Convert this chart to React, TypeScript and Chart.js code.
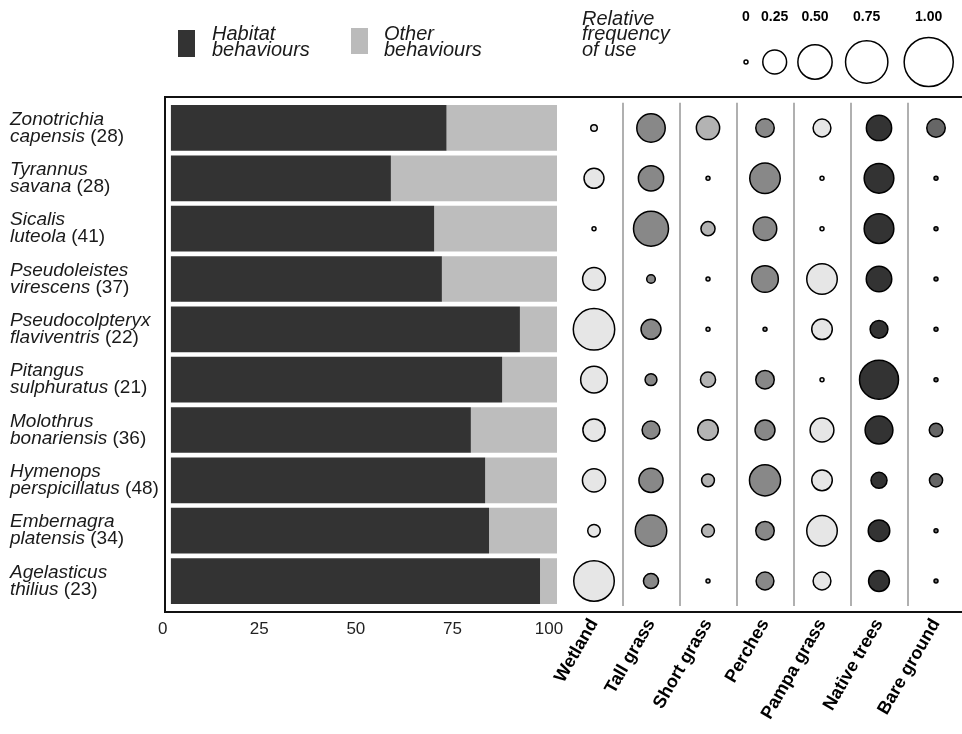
import { useEffect, useRef } from "react";
import { Chart, registerables } from "chart.js";
Chart.register(...registerables);

const GENUS = ["Zonotrichia", "Tyrannus", "Sicalis", "Pseudoleistes", "Pseudocolpteryx", "Pitangus", "Molothrus", "Hymenops", "Embernagra", "Agelasticus"];
const EPITHET = ["capensis", "savana", "luteola", "virescens", "flaviventris", "sulphuratus", "bonariensis", "perspicillatus", "platensis", "thilius"];
const SAMPLE_N = [28, 28, 41, 37, 22, 21, 36, 48, 34, 23];
const SPECIES = GENUS.map((g, i) => g + " " + EPITHET[i]);

const HABITAT_PCT = [71.4, 57.0, 68.2, 70.2, 90.4, 85.8, 77.7, 81.4, 82.4, 95.6];
const OTHER_PCT = [28.6, 43.0, 31.8, 29.8, 9.6, 14.2, 22.3, 18.6, 17.6, 4.4];
const BAR_TICKS = [0, 25, 50, 75, 100];

const HABITATS = ["Wetland", "Tall grass", "Short grass", "Perches", "Pampa grass", "Native trees", "Bare ground"];
const HABITAT_COLORS = ["#e6e6e6", "#888888", "#b3b3b3", "#888888", "#e6e6e6", "#333333", "#666666"];

const WETLAND = [0.025, 0.18, 0, 0.23, 0.72, 0.31, 0.22, 0.237, 0.077, 0.69];
const TALL_GRASS = [0.35, 0.28, 0.52, 0.04, 0.18, 0.07, 0.146, 0.257, 0.425, 0.108];
const SHORT_GRASS = [0.24, 0, 0.095, 0, 0, 0.108, 0.19, 0.08, 0.08, 0];
const PERCHES = [0.156, 0.40, 0.244, 0.31, 0, 0.156, 0.18, 0.415, 0.156, 0.146];
const PAMPA_GRASS = [0.146, 0, 0, 0.40, 0.19, 0, 0.25, 0.19, 0.40, 0.146];
const NATIVE_TREES = [0.28, 0.38, 0.38, 0.285, 0.146, 0.64, 0.336, 0.12, 0.207, 0.195];
const BARE_GROUND = [0.156, 0, 0, 0, 0, 0, 0.088, 0.084, 0, 0];
const FREQUENCIES = [WETLAND, TALL_GRASS, SHORT_GRASS, PERCHES, PAMPA_GRASS, NATIVE_TREES, BARE_GROUND];

const SIZE_LEGEND = [0, 0.25, 0.5, 0.75, 1];
const SIZE_LEGEND_LABELS = ["0", "0.25", "0.50", "0.75", "1.00"];

const FONT = '"Liberation Sans", Arial, Helvetica, sans-serif';
const radiusOf = (v: number) => Math.max(2, 25.3 * Math.sqrt(v) - 0.75);

const overlay = {
  id: "overlay",
  afterDraw(chart: any) {
    const ctx = chart.ctx as CanvasRenderingContext2D;
    const ys = chart.scales.y;
    ctx.save();
    // frame
    ctx.strokeStyle = "#111";
    ctx.lineWidth = 2;
    ctx.beginPath();
    ctx.moveTo(962, 97);
    ctx.lineTo(165, 97);
    ctx.lineTo(165, 612);
    ctx.lineTo(962, 612);
    ctx.stroke();

    // species labels
    ctx.textBaseline = "middle";
    ctx.textAlign = "left";
    ctx.fillStyle = "#1a1a1a";
    GENUS.forEach((g, i) => {
      const cy = ys.getPixelForValue(i);
      ctx.font = `italic 19px ${FONT}`;
      ctx.fillText(g, 10, cy - 8.5);
      ctx.fillText(EPITHET[i], 10, cy + 8.5);
      const w = ctx.measureText(EPITHET[i]).width;
      ctx.font = `19px ${FONT}`;
      ctx.fillText(" (" + SAMPLE_N[i] + ")", 10 + w, cy + 8.5);
    });

    // legend: behaviours
    ctx.fillStyle = "#333333";
    ctx.fillRect(178, 30, 17, 27);
    ctx.fillStyle = "#bbbbbb";
    ctx.fillRect(351, 28, 17, 26);
    ctx.fillStyle = "#1a1a1a";
    ctx.font = `italic 20px ${FONT}`;
    ctx.fillText("Habitat", 212, 34);
    ctx.fillText("behaviours", 212, 50);
    ctx.fillText("Other", 384, 34);
    ctx.fillText("behaviours", 384, 50);
    ctx.fillText("Relative", 582, 19);
    ctx.fillText("frequency", 582, 34.5);
    ctx.fillText("of use", 582, 50);

    // size legend
    const cxs = [746, 774.7, 815, 866.7, 928.7];
    ctx.textAlign = "center";
    ctx.font = `bold 14px ${FONT}`;
    SIZE_LEGEND.forEach((v, k) => {
      ctx.fillStyle = "#000";
      ctx.fillText(SIZE_LEGEND_LABELS[k], cxs[k], 17);
      ctx.beginPath();
      ctx.arc(cxs[k], 62, radiusOf(v), 0, Math.PI * 2);
      ctx.fillStyle = "#fff";
      ctx.fill();
      ctx.lineWidth = 1.5;
      ctx.strokeStyle = "#000";
      ctx.stroke();
    });
    ctx.restore();
  },
};

export default function App() {
  const ref = useRef<HTMLCanvasElement | null>(null);
  useEffect(() => {
    document.body.style.margin = "0";
    document.body.style.overflow = "hidden";
    const canvas = ref.current!;
    const datasets: any[] = [
      {
        type: "bar",
        label: "Habitat behaviours",
        data: HABITAT_PCT,
        backgroundColor: "#333333",
        borderWidth: 0,
        xAxisID: "x",
        yAxisID: "y",
        barPercentage: 0.908,
        categoryPercentage: 1,
      },
      {
        type: "bar",
        label: "Other behaviours",
        data: OTHER_PCT,
        backgroundColor: "#bdbdbd",
        borderWidth: 0,
        xAxisID: "x",
        yAxisID: "y",
        barPercentage: 0.908,
        categoryPercentage: 1,
      },
      ...HABITATS.map((h, j) => ({
        type: "bubble",
        label: h,
        data: FREQUENCIES[j].map((v, i) => ({ x: j, y: SPECIES[i], r: radiusOf(v) })),
        backgroundColor: HABITAT_COLORS[j],
        borderColor: "#000",
        borderWidth: 1.5,
        xAxisID: "x2",
        yAxisID: "y",
        clip: false,
      })),
    ];
    const x2Ticks: number[] = [];
    for (let k = 0; k <= HABITATS.length - 1; k += 0.5) x2Ticks.push(k);

    const chart = new Chart(canvas, {
      type: "bar",
      data: { labels: SPECIES, datasets },
      options: {
        indexAxis: "y",
        animation: false,
        responsive: false,
        events: [],
        layout: { autoPadding: false, padding: { top: 102.8, left: 170.7, right: 0, bottom: 0 } },
        plugins: { legend: { display: false }, tooltip: { enabled: false } },
        scales: {
          y: {
            type: "category",
            display: false,
            stacked: true,
            offset: true,
            afterFit: (s: any) => {
              s.paddingTop = 0;
              s.paddingBottom = 0;
            },
          },
          x: {
            type: "linear",
            position: "bottom",
            stack: "cols",
            stackWeight: 394.8,
            stacked: true,
            min: 0,
            max: 102.2,
            afterBuildTicks: (s: any) => {
              s.ticks = BAR_TICKS.map((value) => ({ value }));
            },
            afterFit: (s: any) => {
              s.height = 127.8;
              s.paddingLeft = 0;
              s.paddingRight = 0;
            },
            grid: { display: false },
            border: { display: false },
            ticks: {
              autoSkip: false,
              maxRotation: 0,
              padding: 5,
              labelOffset: -8,
              color: "#222",
              font: { family: FONT, size: 17 },
            },
          },
          x2: {
            type: "linear",
            axis: "x",
            position: "bottom",
            stack: "cols",
            stackWeight: 396.5,
            min: -0.5,
            max: 6.456,
            afterBuildTicks: (s: any) => {
              s.ticks = x2Ticks.map((value) => ({ value }));
            },
            afterFit: (s: any) => {
              s.height = 127.8;
              s.paddingLeft = 0;
              s.paddingRight = 0;
            },
            grid: {
              drawTicks: false,
              lineWidth: 2,
              color: (c: any) => (c.tick && c.tick.value % 1 !== 0 ? "#b0b0b0" : "rgba(0,0,0,0)"),
            },
            border: { display: false },
            ticks: {
              autoSkip: false,
              minRotation: 60,
              maxRotation: 60,
              padding: 9,
              color: "#000",
              font: { family: FONT, size: 18, weight: "bold" },
              callback: (v: any) => (Number.isInteger(v) ? HABITATS[v] : ""),
            },
          },
        } as any,
      },
      plugins: [overlay],
    } as any);
    return () => chart.destroy();
  }, []);
  return <canvas ref={ref} width={962} height={734} style={{ display: "block" }} />;
}
